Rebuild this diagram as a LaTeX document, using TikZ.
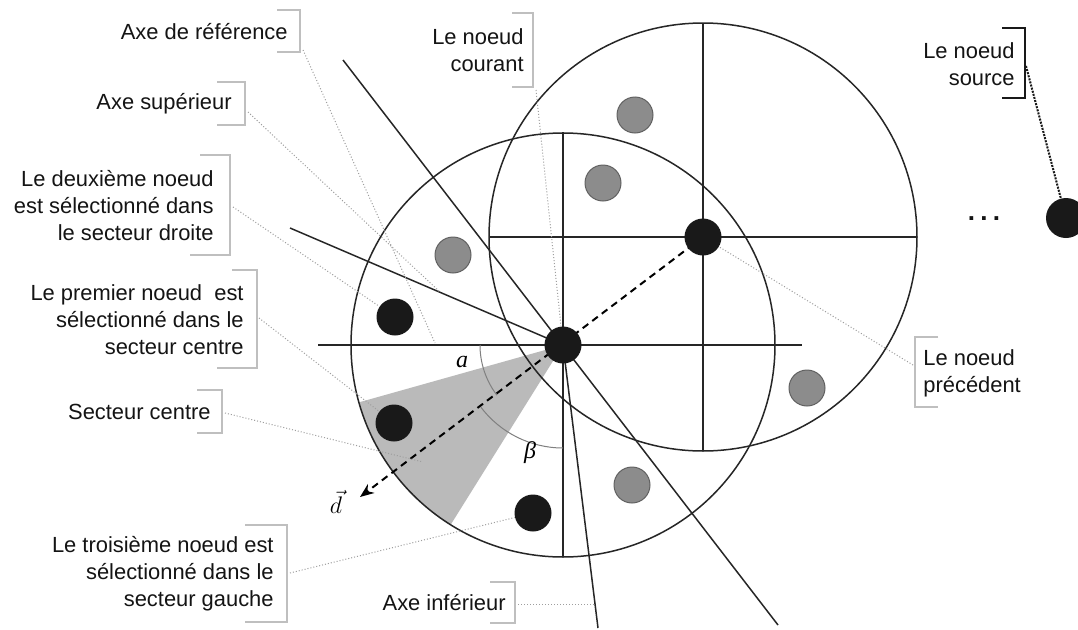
\documentclass[tikz,border=0pt]{standalone}
\usepackage{fontspec}
\setmainfont{Liberation Sans}
\newfontfamily\symserif{Liberation Serif}
\usetikzlibrary{arrows.meta,calc}

\begin{document}
\begin{tikzpicture}[x=0.5pt,y=0.5pt,
  font=\fontsize{10.95}{13.5}\selectfont,
  axis/.style={line width=0.75pt,draw=black!85},
  ring/.style={line width=0.75pt,draw=black!85},
  angarc/.style={line width=0.5pt,draw=black!50},
  blk/.style={circle,fill=black!90,minimum size=18.5pt,inner sep=0pt},
  gry/.style={circle,fill=black!45,draw=black!62,line width=0.5pt,minimum size=18pt,inner sep=0pt},
  lbl/.style={inner sep=0pt,text=black!92},
  brk/.style={draw=black!25,line width=0.6pt},
  brkdark/.style={draw=black!90,line width=0.8pt},
  lead/.style={draw=black!38,line width=0.5pt,dash pattern=on 0.5pt off 1pt},
  leaddark/.style={draw=black!90,line width=1pt,dash pattern=on 1pt off 0.6pt},
  sym/.style={inner sep=0pt,font=\fontsize{12}{14}\selectfont\symserif\itshape}]

\fill[white] (0,0) rectangle (1078,629);
\useasboundingbox (0,0) rectangle (1078,629);
\clip (0,0) rectangle (1078,629);

% centres of the two neighbourhoods
\coordinate (C) at (563,284);
\coordinate (P) at (703,392);

% secteur centre (shaded)
\fill[black!27] (C) -- ($(C)+(195.7:212)$) arc[start angle=195.7,end angle=238,radius=212] -- cycle;

% leader lines of the labels
\coordinate (l1) at (303,579);
\coordinate (l2) at (248,517);
\coordinate (l3) at (233,422);
\coordinate (l4) at (259,311);
\coordinate (l5) at (225,216);
\coordinate (l6) at (290,56);
\coordinate (l7) at (518,25);
\coordinate (l8) at (536,539);
\coordinate (l9) at (913,264);
\coordinate (l10) at (1026,563);
\coordinate (t1) at (435,286);
\coordinate (t2) at (440,337);
\coordinate (t5) at (423,167);
\coordinate (t7) at (595,25);

% neighbourhood circles
\draw[ring] (C) circle[radius=212];
\draw[ring] (P) circle[radius=214];

% axes
\coordinate (hL) at (318,284);  \coordinate (hR) at (802,284);
\coordinate (vT) at (563,497);  \coordinate (vB) at (563,72);
\coordinate (pL) at (489,392);  \coordinate (pR) at (917,392);
\coordinate (pT) at (703,606);  \coordinate (pB) at (703,178);
\coordinate (rT) at (343,569);  \coordinate (rB) at (778,4);
\coordinate (up) at (290,401);  \coordinate (lo) at (598,1);
\draw[axis] (hL) -- (hR);
\draw[axis] (vT) -- (vB);
\draw[axis] (pL) -- (pR);
\draw[axis] (pT) -- (pB);
\draw[axis] (rT) -- (rB);
\draw[axis] (C) -- (up);
\draw[axis] (C) -- (lo);

% angles
\draw[angarc] ($(C)+(180:83)$) arc[start angle=180,end angle=217.2,radius=83];
\draw[angarc] ($(C)+(217.2:103)$) arc[start angle=217.2,end angle=270,radius=103];
\node[sym] (alpha) at (462,267) {a};
\node[sym] (beta) at (530,176) {β};
\node[inner sep=0pt,font=\fontsize{12.5}{14}\selectfont] (dlab) at (336,127) {$\vec{d}$};

% direction vector
\coordinate (dtip) at (360,132);
\draw[line width=1pt,dash pattern=on 3.5pt off 2.5pt,-{Stealth[length=7pt,width=5.5pt]}] (P) -- (dtip);

% nodes
\node[blk] (nC) at (C) {};
\node[blk] (nP) at (P) {};
\node[blk,minimum size=20pt] (nS) at (1066,411) {};
\node[gry] (g1) at (635,514) {};
\node[gry] (g2) at (603,446) {};
\node[gry] (g3) at (453,374) {};
\node[gry] (g4) at (807,241) {};
\node[gry] (g5) at (632,144) {};
\node[blk] (b1) at (394,206) {};
\node[blk] (b2) at (395,312) {};
\node[blk] (b3) at (533,116) {};
\node[lbl,anchor=base,font=\fontsize{13}{14}\selectfont\bfseries] (dots) at (984,409) {.\hspace{2.6pt}.\hspace{2.6pt}.};

% leaders
\draw[lead] (l1) -- (t1);
\draw[lead] (l2) -- (t2);
\draw[lead] (l3) -- (b2);
\draw[lead] (l4) -- (b1);
\draw[lead] (l5) -- (t5);
\draw[lead] (l6) -- (b3);
\draw[lead] (l7) -- (t7);
\draw[lead] (l8) -- (nC);
\draw[lead] (l9) -- (nP);
\draw[leaddark] (l10) -- (nS);

% labels and their brackets
\node[lbl,anchor=east] (axref) at (288,597) {Axe de référence};
\draw[brk] (277,619) -- (300,619) -- (300,577) -- (277,577);

\node[lbl,anchor=east] (axsup) at (232,525) {Axe supérieur};
\draw[brk] (217,547) -- (245,547) -- (245,504) -- (217,504);

\node[lbl,anchor=east,align=right] (second) at (214,423) {Le deuxième noeud\\est sélectionné dans\\le secteur droite};
\draw[brk] (200,474) -- (230,474) -- (230,374) -- (190,374);

\node[lbl,anchor=east,align=right] (first) at (244,309) {Le premier noeud\ \ est\\sélectionné dans le\\secteur centre};
\draw[brk] (232,359) -- (257,359) -- (257,261) -- (217,261);

\node[lbl,anchor=east] (seccent) at (211,217) {Secteur centre};
\draw[brk] (197,239) -- (222,239) -- (222,196) -- (197,196);

\node[lbl,anchor=east,align=right] (third) at (274,55) {Le troisième noeud est\\sélectionné dans le\\secteur gauche};
\draw[brk] (245,104) -- (287,104) -- (287,7) -- (245,7);

\node[lbl,anchor=east] (axinf) at (506,26) {Axe inférieur};
\draw[brk] (490,47) -- (515,47) -- (515,6) -- (490,6);

\node[lbl,anchor=east,align=right] (courant) at (524,579) {Le noeud\\courant};
\draw[brk] (512,616) -- (533,616) -- (533,542) -- (512,542);

\node[lbl,anchor=east,align=right] (source) at (1015,565) {Le noeud\\source};
\draw[brkdark] (1002,601) -- (1025,601) -- (1025,531) -- (1002,531);

\node[lbl,anchor=west,align=left] (prec) at (923,256) {Le noeud\\précédent};
\draw[brk] (938,292) -- (915,292) -- (915,222) -- (938,222);

\end{tikzpicture}
\end{document}
